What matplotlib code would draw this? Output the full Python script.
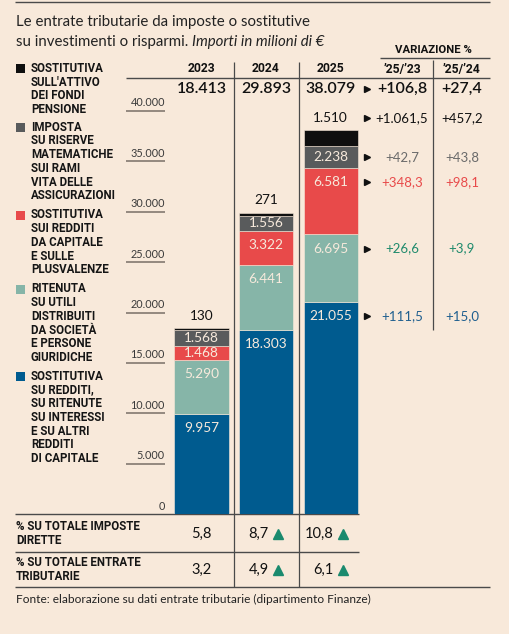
import numpy as np
import matplotlib.pyplot as plt
from matplotlib.patches import Rectangle
from matplotlib.transforms import blended_transform_factory, offset_copy

# --- data (milioni di euro) ---
years = ['2023', '2024', '2025']
# layers from bottom to top
blue = [9957, 18303, 21055]
teal = [5290, 6441, 6695]
red = [1468, 3322, 6581]
grey = [1568, 1556, 2238]
black = [130, 271, 1510]
# variazione % per layer (blue, teal, red, grey, black)
var_25_23 = [111.5, 26.6, 348.3, 42.7, 1061.5]
var_25_24 = [15.0, 3.9, 98.1, 43.8, 457.2]
var_tot = [106.8, 27.4]
pct_dirette = [5.8, 8.7, 10.8]
pct_entrate = [3.2, 4.9, 6.1]
pct_up = [False, True, True]
yticks = [0, 5000, 10000, 15000, 20000, 25000, 30000, 35000, 40000]

legend_labels = [
    ['SOSTITUTIVA', 'SU REDDITI,', 'SU RITENUTE', 'SU INTERESSI', 'E SU ALTRI', 'REDDITI', 'DI CAPITALE'],
    ['RITENUTA', 'SU UTILI', 'DISTRIBUITI', 'DA SOCIETÀ', 'E PERSONE', 'GIURIDICHE'],
    ['SOSTITUTIVA', 'SUI REDDITI', 'DA CAPITALE', 'E SULLE', 'PLUSVALENZE'],
    ['IMPOSTA', 'SU RISERVE', 'MATEMATICHE', 'SUI RAMI', 'VITA DELLE', 'ASSICURAZIONI'],
    ['SOSTITUTIVA', "SULL'ATTIVO", 'DEI FONDI', 'PENSIONE'],
]

layers = [blue, teal, red, grey, black]
colors = ['#005B8F', '#86B5A8', '#E84A4A', '#595B5C', '#0F0F0F']
text_colors = ['#1F5F8F', '#1F8A6C', '#E84A4A', '#6B6B6B', '#111111']
BG = '#F8E9DA'
LINE = '#4A4A4A'
CREAM = '#F7EADC'

SANS = ['Lato', 'DejaVu Sans']
BOLD = ['Roboto', 'DejaVu Sans']


def it(v, dec=0, sign=False):
    s = f"{v:{'+' if sign else ''},.{dec}f}"
    return s.replace(',', 'X').replace('.', ',').replace('X', '.')


W, H = 510, 634
fig = plt.figure(figsize=(W / 100, H / 100), dpi=100, facecolor=BG)
lay = fig.add_axes([0, 0, 1, 1])
lay.set_facecolor(BG)
lay.axis('off')

# bar axes: x = category index, y = millions
x_left, x_right = 169.2, 363.0
y_base, y_top = 514, 111
ax = fig.add_axes([x_left / W, (H - y_base) / H, (x_right - x_left) / W, (y_base - y_top) / H])
ax.patch.set_alpha(0)
ax.axis('off')

x = np.arange(len(years))
bottom = np.zeros(len(years))
label_y = []
for vals, c in zip(layers, colors):
    vals = np.array(vals, dtype=float)
    ax.bar(x, vals, bottom=bottom, width=0.836, color=c, edgecolor=BG, linewidth=0.4)
    top = bottom + vals
    if c == colors[-1]:
        ly = top + 1250
    else:
        ly = top - np.minimum(vals / 2, 1400)
    label_y.append(ly)
    bottom = top
ax.set_xlim(-0.5, 2.5)
ax.set_ylim(0, 40000)

for k, vals in enumerate(layers):
    for i, v in enumerate(vals):
        col = '#111111' if k == len(layers) - 1 else CREAM
        ax.text(x[i], label_y[k][i], it(v), ha='center', va='center', color=col,
                fontsize=9.8, family=SANS, clip_on=False)

# texts in pixel x, data y
tr = blended_transform_factory(lay.transData, ax.transData)

for t in yticks:
    if t > 0:
        lay.plot([126, 165], [t, t], transform=tr, color='#8C8178', lw=1.3, solid_capstyle='butt')
    lay.text(165, t, it(t), transform=offset_copy(tr, fig=fig, y=2.5, units='dots'),
             ha='right', va='bottom', fontsize=7.8, family=SANS, color='#3A3A3A')

# variazione per layer
for k in range(len(layers)):
    yk = label_y[k][2]
    lay.plot([367], [yk], marker='>', ms=4.5, color='#111111', transform=tr)
    lay.text(402, yk, it(var_25_23[k], 1, True), transform=tr, ha='center', va='center',
             fontsize=9.5, family=SANS, color=text_colors[k])
    lay.text(462, yk, it(var_25_24[k], 1, True), transform=tr, ha='center', va='center',
             fontsize=9.5, family=SANS, color=text_colors[k])

# --- pixel layout ---
lay.set_xlim(0, W)
lay.set_ylim(H, 0)


def hline(y, x0, x1, lw=1.0):
    lay.plot([x0, x1], [y, y], color=LINE, lw=lw, solid_capstyle='butt')


def vline(xv, y0, y1):
    lay.plot([xv, xv], [y0, y1], color=LINE, lw=0.9, solid_capstyle='butt')


hline(2, 15, 490)
hline(58, 380, 490)
hline(78, 126, 490)
hline(514, 15, 359)
hline(552, 15, 359)
hline(587, 15, 490)
vline(234.5, 62, 587)
vline(299, 62, 587)
vline(433, 60, 330)

lay.text(16, 22, 'Le entrate tributarie da imposte o sostitutive', fontsize=10.8,
         family=SANS, va='center', color='#222222')
t1 = lay.text(16, 42, 'su investimenti o risparmi.', fontsize=10.8, family=SANS, va='center',
              color='#222222')
fig.canvas.draw()
bb = t1.get_window_extent()
x_it = lay.transData.inverted().transform((bb.x1, 0))[0] + 4
lay.text(x_it, 42, 'Importi in milioni di €', fontsize=10.8, family=SANS, style='italic',
         va='center', color='#222222')
lay.text(433, 50, 'VARIAZIONE %', fontsize=8.2, family=BOLD, weight='bold', ha='center',
         va='center', color='#111111')

xc = [201.5, 266, 330.75]
for i, yr in enumerate(years):
    lay.text(xc[i], 69, yr, ha='center', va='center', fontsize=8.7, family=BOLD,
             weight='bold', color='#111111')
lay.text(402, 69, '’25/’23', ha='center', va='center', fontsize=8.7, family=BOLD,
         weight='bold', color='#111111')
lay.text(462, 69, '’25/’24', ha='center', va='center', fontsize=8.7, family=BOLD,
         weight='bold', color='#111111')

totals = np.sum(layers, axis=0)
for i, tot in enumerate(totals):
    lay.text(xc[i], 89, it(tot), ha='center', va='center', fontsize=11.5, family=SANS,
             weight='semibold', color='#111111')
lay.plot([367], [89], marker='>', ms=4.5, color='#111111')
lay.text(402, 89, it(var_tot[0], 1, True), ha='center', va='center', fontsize=11.5,
         family=SANS, weight='semibold', color='#111111')
lay.text(462, 89, it(var_tot[1], 1, True), ha='center', va='center', fontsize=11.5,
         family=SANS, weight='semibold', color='#111111')

# legend
starts = [376.3, 289, 215, 127.3, 68.5]
for k, lines in enumerate(legend_labels):
    lay.add_patch(Rectangle((16, starts[k] - 4.5), 9, 9, color=colors[k], lw=0))
    for j, s in enumerate(lines):
        lay.text(31, starts[k] + j * 13.7, s, va='center', fontsize=8.3, family=BOLD,
                 weight='bold', color='#151515')

# bottom table
rows = [(['% SU TOTALE IMPOSTE', 'DIRETTE'], pct_dirette, 534),
        (['% SU TOTALE ENTRATE', 'TRIBUTARIE'], pct_entrate, 570)]
for lines, vals, yv in rows:
    for j, s in enumerate(lines):
        lay.text(16, yv - 7 + j * 14, s, va='center', fontsize=8.3, family=BOLD,
                 weight='bold', color='#151515')
    for i, v in enumerate(vals):
        if pct_up[i]:
            lay.text(xc[i] + 3, yv, it(v, 1), ha='right', va='center', fontsize=10.5,
                     family=SANS, color='#111111')
            lay.plot([xc[i] + 12], [yv - 0.5], marker='^', ms=6.5, color='#1A8A6E')
        else:
            lay.text(xc[i], yv, it(v, 1), ha='center', va='center', fontsize=10.5,
                     family=SANS, color='#111111')

lay.text(16, 599, 'Fonte: elaborazione su dati entrate tributarie (dipartimento Finanze)',
         va='center', fontsize=8.55, family=SANS, color='#222222')

lay.set_xlim(0, W)
lay.set_ylim(H, 0)
fig.savefig('out.png', dpi=100, facecolor=BG)
